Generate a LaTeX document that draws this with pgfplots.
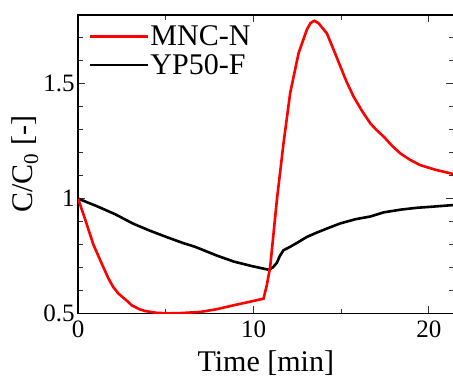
\documentclass[border=0pt]{standalone}
\usepackage{pgfplots}
\pgfplotsset{compat=1.18}
\usepackage{fontspec}
\setmainfont{Liberation Serif}
\begin{document}
\begin{tikzpicture}
\begin{axis}[
  scale only axis,
  width=375pt, height=298pt,
  xmin=0, xmax=21.4, ymin=0.5, ymax=1.8,
  xtick={0,10,20}, minor xtick={5,15},
  ytick={0.5,1,1.5}, yticklabels={0.5,1,1.5},
  minor ytick={0.6,0.7,0.8,0.9,1.1,1.2,1.3,1.4,1.6,1.7},
  tick align=inside,
  major tick length=7pt, minor tick length=4.5pt,
  every tick/.style={black!80, line width=1pt},
  axis line style={line width=1.3pt},
  /pgf/number format/assume math mode=true,
  tick label style={font=\fontsize{25}{28}\selectfont},
  xticklabel style={yshift=-4pt},
  label style={font=\fontsize{30}{34}\selectfont},
  xlabel={Time [min]},
  ylabel={C/C$_{\mathrm{0}}$ [-]},
  xlabel style={yshift=-6pt},
  ylabel style={yshift=-2pt},
  legend style={draw=none, fill=none, at={(0.028,0.968)}, anchor=north west,
    font=\fontsize{30}{32}\selectfont, row sep=5pt, inner sep=0pt,
    nodes={inner sep=1pt}},
  legend cell align=left,
  legend image code/.code={\draw[#1] (0pt,0pt) -- (58pt,0pt);},
]
\addlegendimage{red, line width=2.6pt}
\addlegendentry{MNC-N}
\addlegendimage{black, line width=2.6pt}
\addlegendentry{YP50-F}
\addplot[black, line width=2.6pt, forget plot] coordinates {
(0,1.0) (1.1,0.966) (2.11,0.932) (3.16,0.89) (4.1,0.86) (5.06,0.832) (6.0,0.806)
(6.67,0.79) (7.9,0.752) (8.86,0.726) (9.9,0.706) (10.86,0.69) (11.1,0.70)
(11.33,0.72) (11.5,0.75) (11.71,0.775) (12.09,0.79) (12.5,0.808) (13.04,0.833)
(13.61,0.852) (14.3,0.873) (14.95,0.892) (15.8,0.91) (16.66,0.922) (17.42,0.94)
(18.4,0.952) (19.32,0.96) (20.4,0.966) (21.4,0.972)
};
\addplot[red, line width=2.6pt, forget plot] coordinates {
(0,1.0) (0.4,0.91) (0.87,0.80) (1.3,0.725) (1.73,0.652) (2.0,0.615) (2.3,0.586)
(2.78,0.555) (3.06,0.535) (3.5,0.518) (3.82,0.51) (4.5,0.502) (5.2,0.500) (5.8,0.501)
(6.96,0.506) (7.9,0.518) (8.86,0.535) (9.7,0.549) (10.57,0.564) (10.75,0.62)
(10.95,0.702) (11.33,0.993) (11.71,1.241) (12.09,1.46) (12.57,1.634) (13.04,1.736)
(13.25,1.765) (13.46,1.775) (13.7,1.765) (14.18,1.72) (14.56,1.65) (14.95,1.576)
(15.3,1.51) (15.7,1.445) (16.2,1.38) (16.66,1.328) (17.0,1.30) (17.42,1.27)
(17.9,1.23) (18.37,1.197) (18.9,1.17) (19.5,1.146) (20.4,1.125) (21.4,1.107)
};
\end{axis}
\pgfresetboundingbox
\path[use as bounding box] (-78pt,-64pt) rectangle (374.5pt,313pt);
\end{tikzpicture}
\end{document}
